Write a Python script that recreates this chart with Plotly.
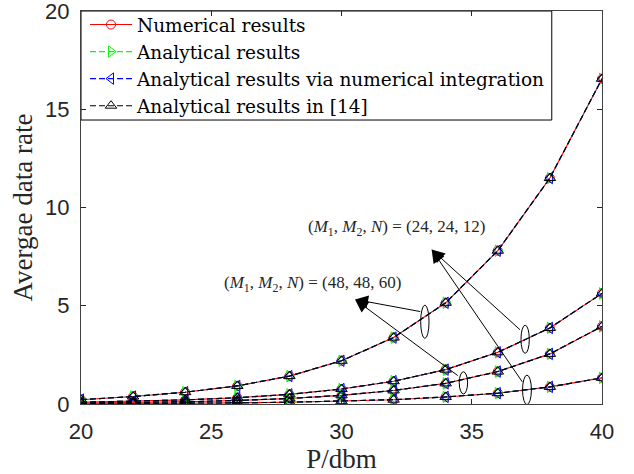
import plotly.graph_objects as go

# ---------------- data ----------------
power_dbm = [20, 22, 24, 26, 28, 30, 32, 34, 36, 38, 40]
rate_curve_1 = [0.22, 0.38, 0.60, 0.92, 1.42, 2.20, 3.38, 5.15, 7.80, 11.50, 16.55]
rate_curve_2 = [0.09, 0.135, 0.21, 0.32, 0.49, 0.76, 1.16, 1.75, 2.63, 3.87, 5.63]
rate_curve_3 = [0.048, 0.075, 0.115, 0.18, 0.28, 0.44, 0.69, 1.05, 1.65, 2.55, 3.95]
rate_curve_4 = [0.015, 0.024, 0.037, 0.058, 0.09, 0.14, 0.22, 0.36, 0.55, 0.87, 1.33]
curves = [rate_curve_1, rate_curve_2, rate_curve_3, rate_curve_4]

method_names = [
    "Numerical results",
    "Analytical results",
    "Analytical results via numerical integration",
    "Analytical results in [14]",
]
x_ticks = [20, 25, 30, 35, 40]
y_ticks = [0, 5, 10, 15, 20]

label_24 = "(<i>M</i><sub>1</sub>, <i>M</i><sub>2</sub>, <i>N</i>) = (24, 24, 12)"
label_48 = "(<i>M</i><sub>1</sub>, <i>M</i><sub>2</sub>, <i>N</i>) = (48, 48, 60)"

# ---------------- styles ----------------
DASH = "6px,3px"
styles = [
    dict(color="#FF0000", dash="solid", symbol="circle-open", size=9),
    dict(color="#00FF00", dash=DASH, symbol="triangle-right-open", size=10),
    dict(color="#0000FF", dash=DASH, symbol="triangle-left-open", size=10),
    dict(color="#000000", dash=DASH, symbol="triangle-up-open", size=10),
]

fig = go.Figure()
for name, st in zip(method_names, styles):
    for i, ys in enumerate(curves):
        fig.add_trace(go.Scatter(
            x=power_dbm, y=ys, mode="lines+markers", name=name,
            legendgroup=name, showlegend=(i == 0),
            line=dict(color=st["color"], width=1.1, dash=st["dash"]),
            marker=dict(symbol=st["symbol"], size=st["size"],
                        color=st["color"], line=dict(width=1, color=st["color"])),
        ))

# ellipses (x-center, half-width, y-bottom, y-top)
ellipses = [
    (33.20, 0.16, 3.34, 5.03),
    (34.68, 0.16, 0.51, 1.64),
    (37.05, 0.16, 2.58, 4.01),
    (37.12, 0.17, -0.03, 1.47),
]
for cx, hw, y0, y1 in ellipses:
    fig.add_shape(type="circle", xref="x", yref="y",
                  x0=cx - hw, x1=cx + hw, y0=y0, y1=y1,
                  line=dict(color="black", width=1))

# legend frame (paper coordinates)
fig.add_shape(type="rect", xref="paper", yref="paper",
              x0=0, x1=0.9036, y0=0.7226, y1=1.0,
              line=dict(color="black", width=1), fillcolor="white", layer="below")

# arrows: (tip x, tip y, tail x, tail y)
arrows = [
    (33.46, 7.86, 36.91, 3.71),
    (33.46, 7.86, 36.98, 1.05),
    (30.52, 5.32, 33.08, 4.69),
    (30.52, 5.32, 34.52, 1.39),
]
for tx, ty, sx, sy in arrows:
    fig.add_annotation(x=tx, y=ty, ax=sx, ay=sy, xref="x", yref="y",
                       axref="x", ayref="y", text="", showarrow=True,
                       arrowhead=2, arrowsize=2.6, arrowwidth=1,
                       arrowcolor="black", standoff=0, startstandoff=0)

fig.add_annotation(x=32.13, y=8.95, xref="x", yref="y", text=label_24,
                   showarrow=False, font=dict(family="Liberation Serif", size=17, color="#262626"))
fig.add_annotation(x=28.9, y=6.1, xref="x", yref="y", text=label_48,
                   showarrow=False, font=dict(family="Liberation Serif", size=17, color="#262626"))

axis_common = dict(
    showgrid=False, zeroline=False, ticks="inside", ticklen=5,
    tickcolor="#262626", linecolor="#404040", linewidth=1,
    mirror="ticks", showline=True, automargin=False,
    ticklabeloverflow="allow",
    tickfont=dict(family="Liberation Sans", size=22, color="#262626"),
)

fig.update_layout(
    width=634, height=474,
    margin=dict(l=81, r=32, t=11, b=70, autoexpand=False),
    paper_bgcolor="white", plot_bgcolor="white",
    xaxis=dict(range=[20, 40], tickvals=x_ticks, ticklabelstandoff=8,
               title=dict(text="P/dbm", standoff=10,
                          font=dict(family="Liberation Serif", size=27, color="#262626")),
               **axis_common),
    yaxis=dict(range=[0, 20], tickvals=y_ticks, ticklabelstandoff=6,
               title=dict(text="Avergae data rate", standoff=4,
                          font=dict(family="Liberation Serif", size=27, color="#262626")),
               **axis_common),
    legend=dict(x=0.0077, y=1.0127, xanchor="left", yanchor="top",
                bgcolor="rgba(0,0,0,0)", borderwidth=0,
                font=dict(family="DejaVu Serif", size=18.5, color="black"),
                itemwidth=42, tracegroupgap=0),
    showlegend=True,
)

fig.write_html("out.html", post_script="document.body.style.margin='0px';",
               config={"displayModeBar": False})
